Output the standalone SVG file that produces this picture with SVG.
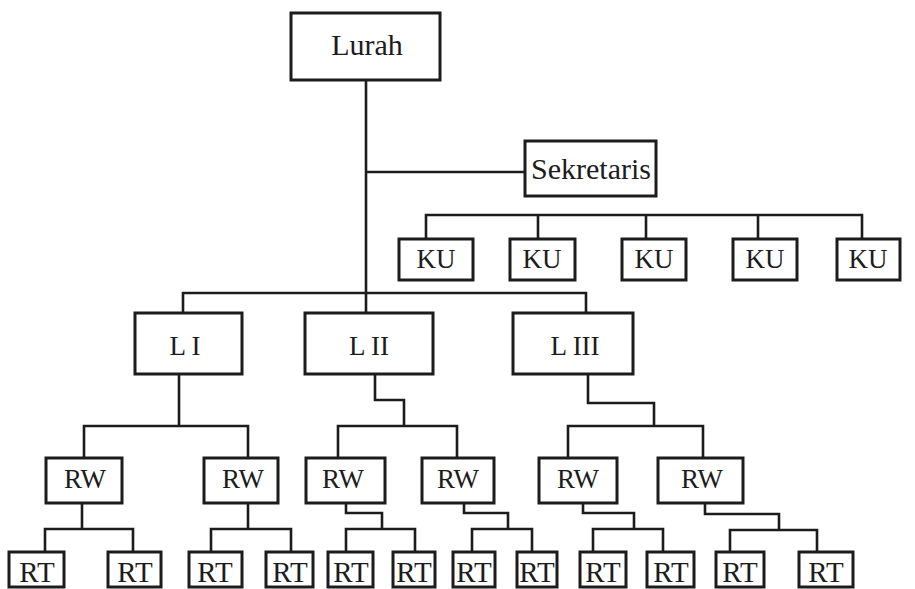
<svg xmlns="http://www.w3.org/2000/svg" width="915" height="589" viewBox="0 0 915 589">
<style>
.box{fill:#fff;stroke:#1c1c1c;stroke-width:3}
.lbl{font-family:"Liberation Serif","Times New Roman",serif;font-size:27px;text-anchor:middle;fill:#1c1c1c}
.big{font-size:30px}
.rt{font-size:29px}
.conn path{fill:none;stroke:#1c1c1c;stroke-width:2.6;stroke-linejoin:miter}
</style>
<rect width="915" height="589" fill="#fff"/>
<g class="conn">
<path d="M366 80V313"/>
<path d="M366 172H525"/>
<path d="M426 239V215H862V239M538 215V239M646 215V239M758 215V239"/>
<path d="M183 313V293H586V313"/>
<path d="M179 374V426M84 458V426H248V458"/>
<path d="M375 374V400H404V426M338 458V426H457V458"/>
<path d="M588 374V403H654V426M568 458V426H703V458"/>
<path d="M82 503V529M45 552V529H133V552"/>
<path d="M248 503V529M211 552V529H291V552"/>
<path d="M346 503V513H382V529M346 552V529H415V552"/>
<path d="M464 503V513H508V529M472 552V529H532V552"/>
<path d="M583 503V513H634V529M593 552V529H663V552"/>
<path d="M705 503V514H779V530M730 552V530H817V552"/>
</g>
<g id="lurah"><rect class="box" x="291" y="13" width="149" height="67"/><text class="lbl big" x="367" y="55">Lurah</text></g>
<g id="sekretaris"><rect class="box" x="525" y="141" width="131" height="55"/><text class="lbl big" x="591" y="179">Sekretaris</text></g>
<g id="ku1"><rect class="box" x="399" y="239" width="74" height="41"/><text class="lbl" x="436" y="268">KU</text></g>
<g id="ku2"><rect class="box" x="510" y="239" width="65" height="41"/><text class="lbl" x="542" y="268">KU</text></g>
<g id="ku3"><rect class="box" x="622" y="239" width="64" height="41"/><text class="lbl" x="654" y="268">KU</text></g>
<g id="ku4"><rect class="box" x="733" y="239" width="64" height="41"/><text class="lbl" x="765" y="268">KU</text></g>
<g id="ku5"><rect class="box" x="837" y="239" width="63" height="41"/><text class="lbl" x="868" y="268">KU</text></g>
<g id="l1"><rect class="box" x="135" y="313" width="107" height="61"/><text class="lbl" x="185" y="355">L I</text></g>
<g id="l2"><rect class="box" x="305" y="313" width="128" height="61"/><text class="lbl" x="369" y="355">L II</text></g>
<g id="l3"><rect class="box" x="513" y="313" width="120" height="61"/><text class="lbl" x="575" y="355">L III</text></g>
<g id="rw1"><rect class="box" x="46" y="458" width="76" height="45"/><text class="lbl" x="85" y="488">RW</text></g>
<g id="rw2"><rect class="box" x="204" y="458" width="74" height="45"/><text class="lbl" x="243" y="488">RW</text></g>
<g id="rw3"><rect class="box" x="306" y="458" width="79" height="45"/><text class="lbl" x="343" y="488">RW</text></g>
<g id="rw4"><rect class="box" x="422" y="458" width="72" height="45"/><text class="lbl" x="458" y="488">RW</text></g>
<g id="rw5"><rect class="box" x="539" y="458" width="78" height="45"/><text class="lbl" x="578" y="488">RW</text></g>
<g id="rw6"><rect class="box" x="658" y="458" width="85" height="45"/><text class="lbl" x="702" y="488">RW</text></g>
<g id="rt1"><rect class="box" x="9" y="552" width="55" height="35"/><text class="lbl rt" x="37" y="582">RT</text></g>
<g id="rt2"><rect class="box" x="108" y="552" width="53" height="35"/><text class="lbl rt" x="135" y="582">RT</text></g>
<g id="rt3"><rect class="box" x="189" y="552" width="53" height="35"/><text class="lbl rt" x="215" y="582">RT</text></g>
<g id="rt4"><rect class="box" x="266" y="552" width="47" height="35"/><text class="lbl rt" x="290" y="582">RT</text></g>
<g id="rt5"><rect class="box" x="328" y="552" width="45" height="35"/><text class="lbl rt" x="351" y="582">RT</text></g>
<g id="rt6"><rect class="box" x="393" y="552" width="42" height="35"/><text class="lbl rt" x="414" y="582">RT</text></g>
<g id="rt7"><rect class="box" x="453" y="552" width="42" height="35"/><text class="lbl rt" x="474" y="582">RT</text></g>
<g id="rt8"><rect class="box" x="517" y="552" width="40" height="35"/><text class="lbl rt" x="537" y="582">RT</text></g>
<g id="rt9"><rect class="box" x="580" y="552" width="46" height="35"/><text class="lbl rt" x="603" y="582">RT</text></g>
<g id="rt10"><rect class="box" x="647" y="552" width="47" height="35"/><text class="lbl rt" x="671" y="582">RT</text></g>
<g id="rt11"><rect class="box" x="716" y="552" width="48" height="35"/><text class="lbl rt" x="740" y="582">RT</text></g>
<g id="rt12"><rect class="box" x="799" y="552" width="54" height="35"/><text class="lbl rt" x="826" y="582">RT</text></g>
</svg>
